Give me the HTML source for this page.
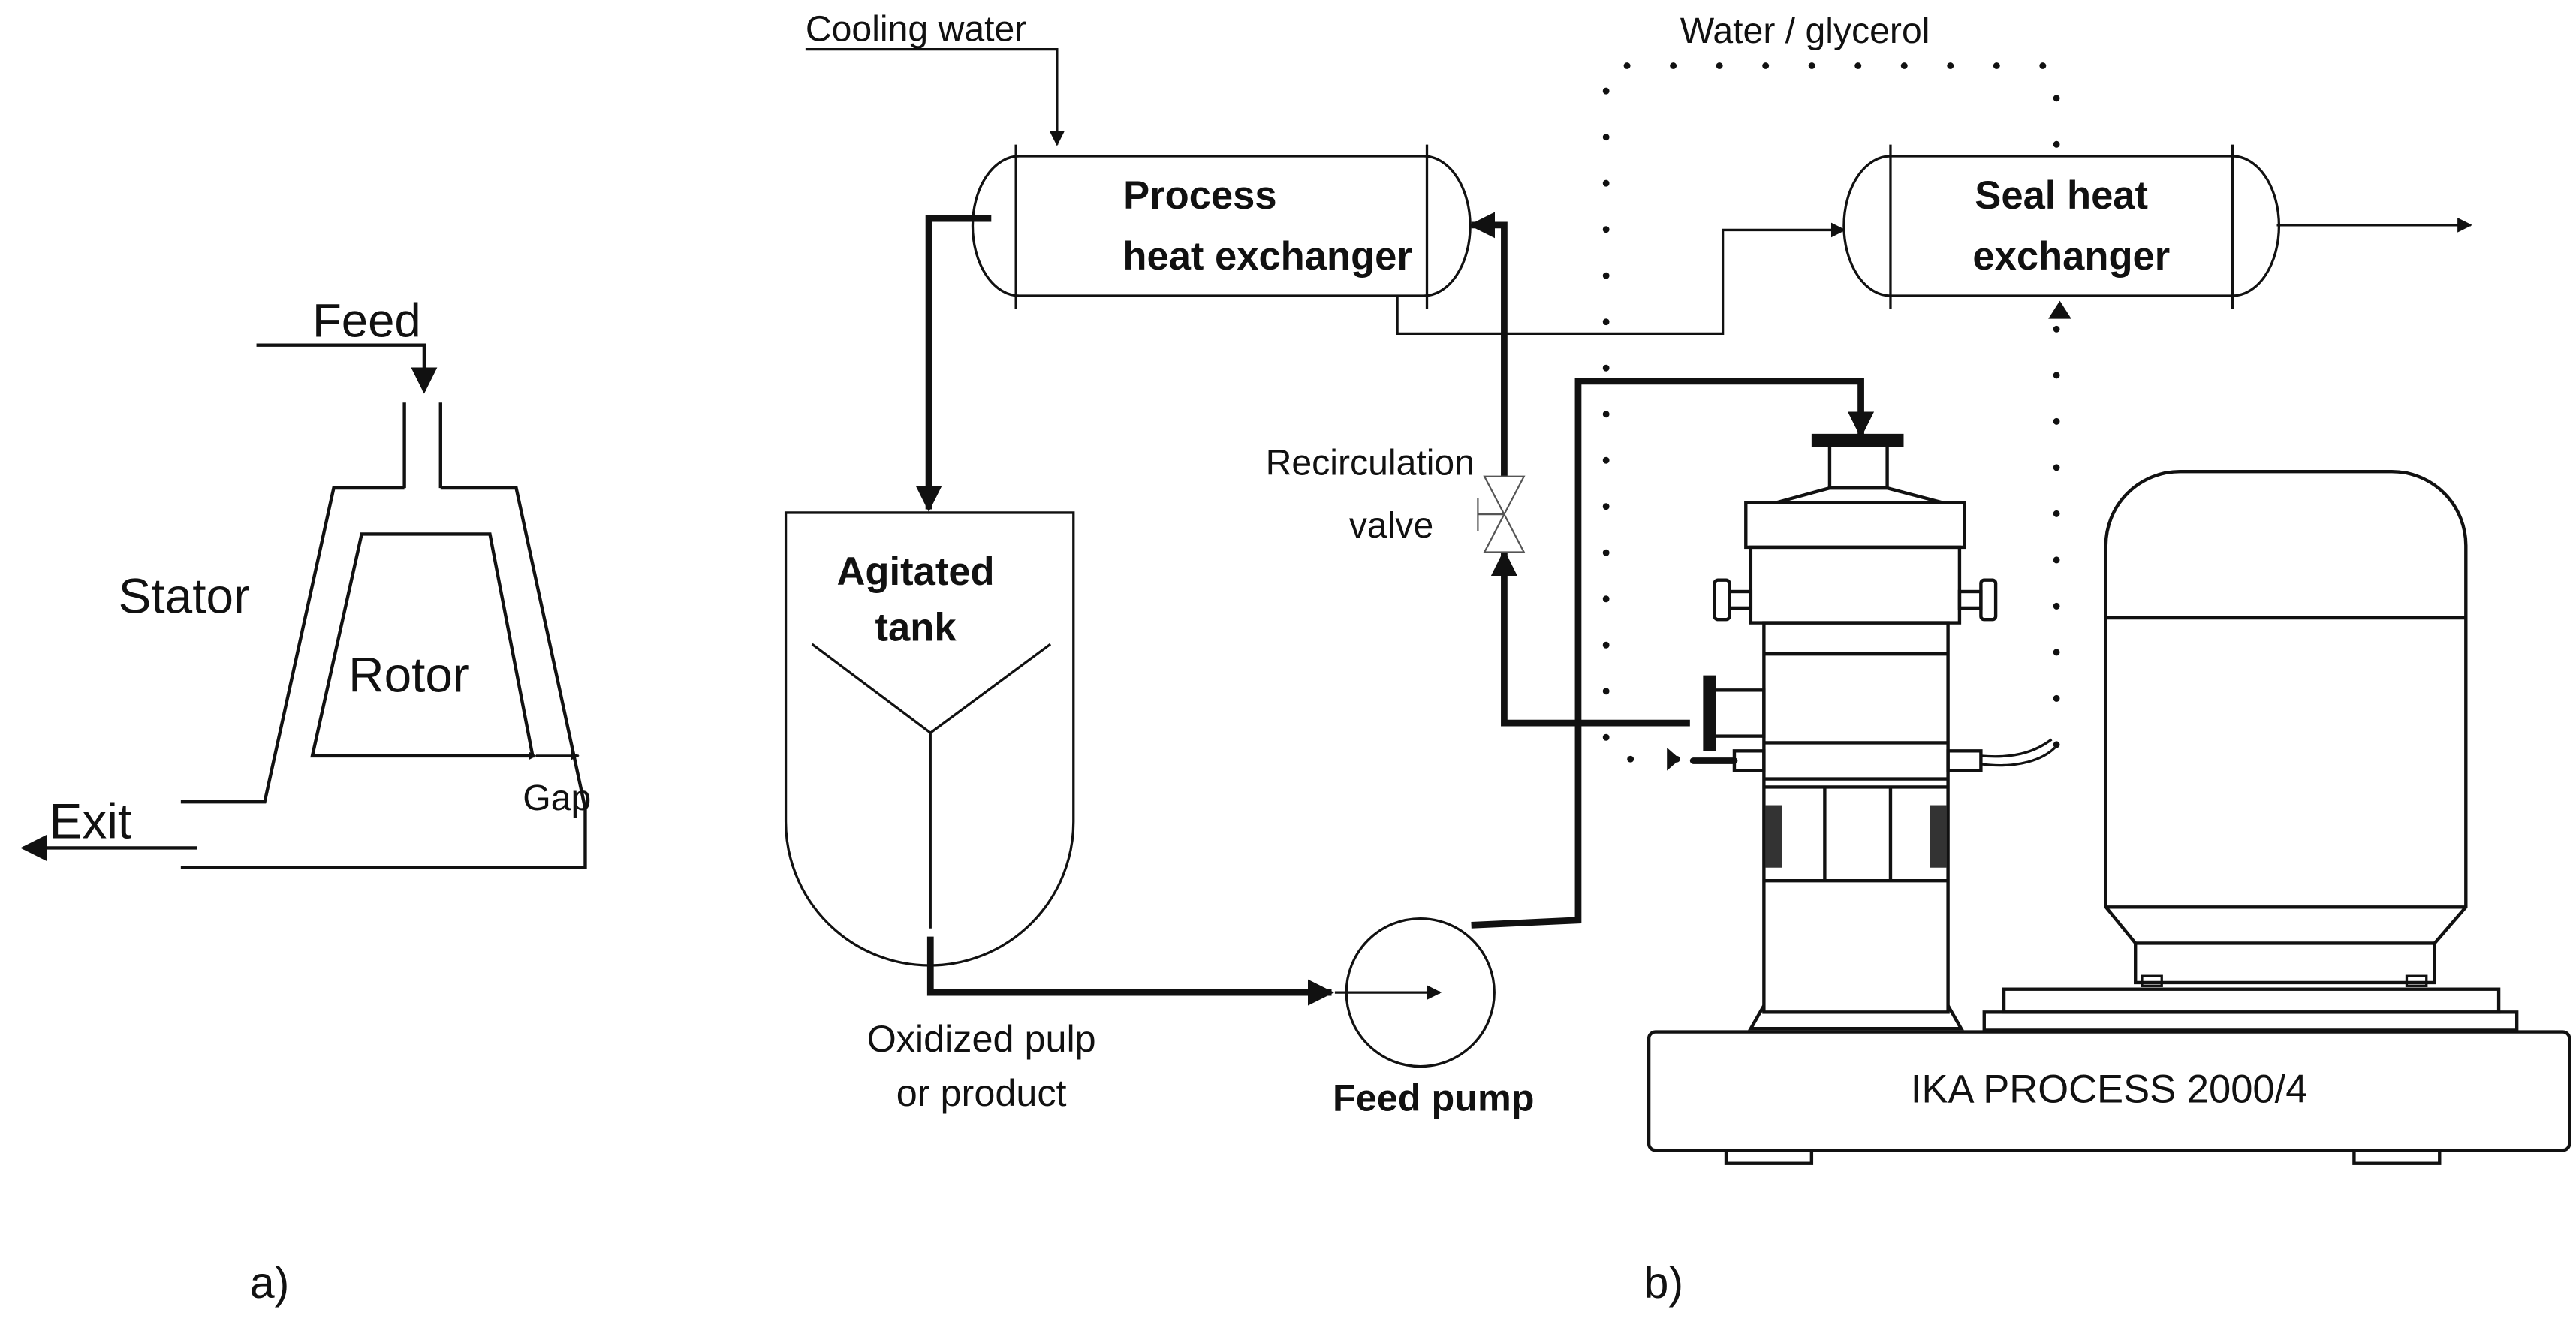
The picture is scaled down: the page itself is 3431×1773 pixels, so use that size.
<!DOCTYPE html>
<html><head><meta charset="utf-8"><style>
html,body{margin:0;padding:0;background:#fff;}
svg{display:block;}
text{font-family:"Liberation Sans",Arial,sans-serif;fill:#111;}
</style></head><body>
<svg width="3431" height="1773" viewBox="0 0 1567 810" preserveAspectRatio="none" xmlns="http://www.w3.org/2000/svg">
<defs>
<marker id="ah" viewBox="0 0 10 10" refX="9" refY="5" markerWidth="5" markerHeight="5" orient="auto" markerUnits="userSpaceOnUse"><path d="M0,0L10,5L0,10z" fill="#111"/></marker>
<marker id="ahs" viewBox="0 0 10 10" refX="9" refY="5" markerWidth="9" markerHeight="9" orient="auto" markerUnits="userSpaceOnUse"><path d="M0,0L10,5L0,10z" fill="#111"/></marker>
<marker id="ahb" viewBox="0 0 10 10" refX="9" refY="5" markerWidth="16" markerHeight="16" orient="auto" markerUnits="userSpaceOnUse"><path d="M0,0L10,5L0,10z" fill="#111"/></marker>
</defs>
<rect width="1567" height="810" fill="#fff"/>
<g fill="none" stroke="#111" stroke-width="2">
<!-- panel a -->
<polyline points="156,210 258,210 258,238" marker-end="url(#ahb)"/>
<line x1="246" y1="245" x2="246" y2="297"/>
<line x1="268" y1="245" x2="268" y2="297"/>
<polyline points="246,297 203,297 161,488 110,488"/>
<polyline points="268,297 314,297 353,478 356,492 356,528 110,528"/>
<polygon points="220,325 298,325 324,460 190,460"/>
<line x1="326" y1="460" x2="352" y2="460" stroke-width="1.5" marker-end="url(#ah)" marker-start="url(#ah)"/>
<line x1="120" y1="516" x2="14" y2="516" marker-end="url(#ahb)"/>

<!-- cooling water -->
<polyline points="490,30 643,30 643,88" stroke-width="1.5" marker-end="url(#ahs)"/>
<!-- dotted water/glycerol -->
<g stroke-dasharray="0.1 28" stroke-linecap="round" stroke-width="4">
<polyline points="1020,462 977,462 977,40 1251,40 1251,455"/>
</g>
<!-- process HX -->
<path d="M620,95 H866 A28,42 0 0 1 866,180 H620 A28,42 0 0 1 620,95 Z" fill="#fff" stroke-width="1.5"/>
<line x1="618" y1="88" x2="618" y2="188" stroke-width="1.5"/>
<line x1="868" y1="88" x2="868" y2="188" stroke-width="1.5"/>
<!-- seal HX -->
<path d="M1150,95 H1358 A28,42 0 0 1 1358,180 H1150 A28,42 0 0 1 1150,95 Z" fill="#fff" stroke-width="1.5"/>
<line x1="1150" y1="88" x2="1150" y2="188" stroke-width="1.5"/>
<line x1="1358" y1="88" x2="1358" y2="188" stroke-width="1.5"/>
<line x1="1385" y1="137" x2="1503" y2="137" stroke-width="1.5" marker-end="url(#ahs)"/>
<path d="M1253,183 l-7,11 h14z" fill="#111" stroke="none"/>
<!-- thin line HX to seal -->
<polyline points="850,180 850,203 1048,203 1048,140 1122,140" stroke-width="1.5" marker-end="url(#ahs)"/>
<!-- thick HX to tank -->
<polyline points="603,133 565,133 565,310" stroke-width="4" marker-end="url(#ahb)"/>
<!-- tank -->
<path d="M478,312 H653 V500 A87,87 0 0 1 478,500 Z" stroke-width="1.5"/>
<polyline points="494,392 566,446 639,392" stroke-width="1.5"/>
<line x1="566" y1="446" x2="566" y2="565" stroke-width="1.5"/>
<!-- tank to pump -->
<polyline points="566,570 566,604 810,604" stroke-width="4" marker-end="url(#ahb)"/>
<circle cx="864" cy="604" r="45" stroke-width="1.5"/>
<line x1="812" y1="604" x2="876" y2="604" stroke-width="1.5" marker-end="url(#ahs)"/>
<!-- pump outlet -->
<polyline points="895,563 960,560 960,232 1132,232 1132,265" stroke-width="4" marker-end="url(#ahb)"/>
<!-- recirculation -->
<polyline points="1028,440 915,440 915,336" stroke-width="4" marker-end="url(#ahb)"/>
<polyline points="915,290 915,137 895,137" stroke-width="4" marker-end="url(#ahb)"/>
<path d="M903,290 L927,290 L903,336 L927,336 Z" stroke-width="1" stroke="#555" fill="#fff"/>
<line x1="899" y1="313" x2="915" y2="313" stroke-width="1" stroke="#555"/>
<line x1="899" y1="303" x2="899" y2="323" stroke-width="1" stroke="#555"/>

<!-- machine base -->
<rect x="1003" y="628" width="560" height="72" rx="4"/>
<rect x="1050" y="700" width="52" height="8"/>
<rect x="1432" y="700" width="52" height="8"/>
<!-- motor plates -->
<rect x="1207" y="616" width="324" height="11"/>
<rect x="1219" y="602" width="301" height="14"/>
<!-- motor -->
<path d="M1281,552 V332 A45,45 0 0 1 1326,287 H1455 A45,45 0 0 1 1500,332 V552 L1481,574 V598 H1299 V574 Z"/>
<line x1="1281" y1="376" x2="1500" y2="376"/>
<line x1="1281" y1="552" x2="1500" y2="552"/>
<line x1="1299" y1="574" x2="1481" y2="574"/>
<rect x="1303" y="594" width="12" height="6" stroke-width="1.5"/>
<rect x="1464" y="594" width="12" height="6" stroke-width="1.5"/>
<!-- homogenizer -->
<rect x="1103" y="265" width="54" height="6" fill="#111"/>
<rect x="1113" y="271" width="35" height="26"/>
<path d="M1080,306 L1113,297 H1148 L1182,306"/>
<rect x="1062" y="306" width="133" height="27"/>
<rect x="1065" y="333" width="127" height="46"/>
<rect x="1073" y="379" width="112" height="237"/>
<line x1="1073" y1="398" x2="1185" y2="398"/>
<line x1="1073" y1="452" x2="1185" y2="452"/>
<line x1="1073" y1="474" x2="1185" y2="474"/>
<line x1="1073" y1="479" x2="1185" y2="479"/>
<line x1="1073" y1="536" x2="1185" y2="536"/>
<line x1="1110" y1="479" x2="1110" y2="536"/>
<line x1="1150" y1="479" x2="1150" y2="536"/>
<rect x="1074" y="490" width="10" height="38" fill="#333" stroke="none"/>
<rect x="1174" y="490" width="10" height="38" fill="#333" stroke="none"/>
<path d="M1073,612 L1065,626 H1193 L1185,612"/>
<!-- knobs -->
<rect x="1052" y="360" width="13" height="10"/>
<rect x="1043" y="353" width="9" height="24" rx="2"/>
<rect x="1192" y="360" width="13" height="10"/>
<rect x="1205" y="353" width="9" height="24" rx="2"/>
<!-- side port -->
<rect x="1043" y="420" width="30" height="28"/>
<rect x="1037" y="412" width="6" height="44" fill="#111"/>
<!-- hoses -->
<rect x="1055" y="457" width="18" height="12"/>
<path d="M1055,463 H1030" stroke-width="4" stroke-linecap="round"/>
<rect x="1185" y="457" width="20" height="12"/>
<path d="M1205,465 C1228,468 1243,462 1250,455 M1205,460 C1228,462 1240,456 1248,450" stroke-width="1.5"/>
<path d="M1014,455 l8,7 l-8,7z" fill="#111" stroke="none"/>
</g>

<!-- text -->
<text x="190" y="205" font-size="29">Feed</text>
<text x="72" y="373" font-size="30">Stator</text>
<text x="212" y="421" font-size="30">Rotor</text>
<text x="318" y="493" font-size="22">Gap</text>
<text x="30" y="510" font-size="30">Exit</text>
<text x="152" y="790" font-size="27">a)</text>
<text x="1000" y="790" font-size="27">b)</text>
<text x="490" y="25" font-size="22">Cooling water</text>
<text x="1022" y="26" font-size="22">Water / glycerol</text>
<text x="730" y="127" font-size="24" font-weight="bold" text-anchor="middle">Process</text>
<text x="771" y="164" font-size="24" font-weight="bold" text-anchor="middle">heat exchanger</text>
<text x="1254" y="127" font-size="24" font-weight="bold" text-anchor="middle">Seal heat</text>
<text x="1260" y="164" font-size="24" font-weight="bold" text-anchor="middle">exchanger</text>
<text x="557" y="356" font-size="24" font-weight="bold" text-anchor="middle">Agitated</text>
<text x="557" y="390" font-size="24" font-weight="bold" text-anchor="middle">tank</text>
<text x="897" y="289" font-size="22" text-anchor="end">Recirculation</text>
<text x="872" y="327" font-size="22" text-anchor="end">valve</text>
<text x="597" y="640" font-size="23" text-anchor="middle">Oxidized pulp</text>
<text x="597" y="673" font-size="23" text-anchor="middle">or product</text>
<text x="872" y="676" font-size="23" font-weight="bold" text-anchor="middle">Feed pump</text>
<text x="1283" y="671" font-size="24" text-anchor="middle">IKA PROCESS 2000/4</text>
</svg>
</body></html>
